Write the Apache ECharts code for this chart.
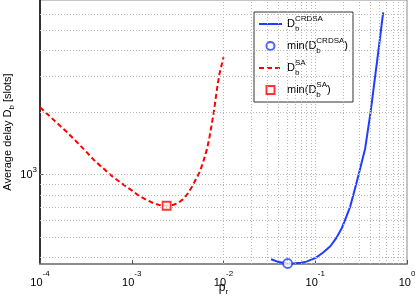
<!DOCTYPE html>
<html>
<head>
<meta charset="utf-8">
<script src="https://cdn.jsdelivr.net/npm/echarts@6/dist/echarts.min.js"></script>
<style>
html,body{margin:0;padding:0;background:#fff;}
#chart{width:415px;height:300px;}
</style>
</head>
<body>
<div id="chart"></div>
<script>
// ---- data ----
const crdsaX = [0.033, 0.04, 0.05, 0.06, 0.07, 0.08, 0.1, 0.12, 0.146, 0.17, 0.195, 0.22, 0.24, 0.27, 0.3, 0.35, 0.4, 0.45, 0.5, 0.55];
const crdsaY = [390, 378, 372, 373, 375, 380, 395, 418, 451, 495, 553, 632, 700, 851, 1020, 1340, 1990, 3000, 4330, 6100];
const saX = [1e-4, 1.5e-4, 2e-4, 3e-4, 4e-4, 5e-4, 6e-4, 7e-4, 8e-4, 1e-3, 1.2e-3, 1.5e-3, 1.8e-3, 2e-3, 2.4e-3, 2.8e-3, 3.2e-3, 3.6e-3, 4e-3, 4.5e-3, 5e-3, 5.5e-3, 6e-3, 6.6e-3, 7e-3, 7.8e-3, 8.5e-3, 9e-3, 1e-2];
const saY = [2120, 1795, 1596, 1330, 1160, 1065, 990, 940, 900, 840, 790, 750, 722, 714, 708, 714, 730, 760, 800, 870, 950, 1030, 1150, 1330, 1500, 1980, 2600, 3050, 3700];
const crdsaMin = [0.05, 372];
const saMin = [2.4e-3, 708];
const xRange = [1e-4, 1];
const yRange = [370, 7000];
const gridXValues = [2e-4,3e-4,4e-4,5e-4,6e-4,7e-4,8e-4,9e-4,1e-3,2e-3,3e-3,4e-3,5e-3,6e-3,7e-3,8e-3,9e-3,1e-2,2e-2,3e-2,4e-2,5e-2,6e-2,7e-2,8e-2,9e-2,1e-1,2e-1,3e-1,4e-1,5e-1,6e-1,7e-1,8e-1,9e-1];
const gridYValues = [400,500,600,700,800,900,1000,2000,3000,4000,5000,6000];
const seriesNames = ['crdsa', 'crdsaMin', 'sa', 'saMin'];

const FONT = '"Liberation Sans", Arial, sans-serif';
const BLUE = '#1f3dff';
const RED = '#ff0000';

function pairs(xs, ys){ return xs.map((x,i)=>[x, ys[i]]); }

const sup = {fontSize: 8, fontFamily: FONT, color:'#000', verticalAlign:'top', lineHeight: 20, padding:[1,0,0,0]};
const sub = {fontSize: 8, fontFamily: FONT, color:'#000', verticalAlign:'bottom', lineHeight: 20, width: 0, padding:[0,0,1,0]};
const base = {fontSize: 11, fontFamily: FONT, color:'#000', verticalAlign:'middle', lineHeight: 20};

const legendText = {
  crdsa: '{n|D}{s|b}{p|CRDSA}',
  crdsaMin: '{n|min(D}{s|b}{p|CRDSA}{n|)}',
  sa: '{n|D}{s|b}{p|SA}',
  saMin: '{n|min(D}{s|b}{p|SA}{n|)}'
};

function powLabel(v){
  const e = Math.round(Math.log10(v));
  if (Math.abs(Math.log10(v) - e) > 1e-6) return '';
  return '{b|10}{e|' + (e < 0 ? '-' + (-e) : e) + '}';
}
const xTickRich = {
  b: {fontSize: 11, fontFamily: FONT, color:'#000', verticalAlign:'bottom', lineHeight: 18},
  e: {fontSize: 8, fontFamily: FONT, color:'#000', verticalAlign:'top', lineHeight: 18}
};
const yTickRich = {
  b: {fontSize: 11, fontFamily: FONT, color:'#000', verticalAlign:'middle', lineHeight: 18},
  e: {fontSize: 8, fontFamily: FONT, color:'#000', verticalAlign:'top', lineHeight: 18}
};

const chart = echarts.init(document.getElementById('chart'), null, {renderer:'canvas'});
chart.setOption({
  animation: false,
  backgroundColor: '#fff',
  grid: {left: 40, right: 8, top: 0, bottom: 36, show: true, borderColor: '#8c8c8c', borderWidth: 1, backgroundColor: 'transparent', containLabel: false, outerBoundsMode: 'none'},
  xAxis: {
    type: 'log', logBase: 10, min: xRange[0], max: xRange[1],
    axisLine: {show: true, lineStyle: {color: '#8c8c8c', width: 2}},
    axisTick: {show: true, inside: true, length: 4, lineStyle: {color: '#555'}},
    splitLine: {show: false},
    axisLabel: {formatter: powLabel, rich: xTickRich, margin: 6, color:'#000'},
    name: '{p|p}{s|r}', nameLocation: 'middle', nameGap: 16, nameMoveOverlap: false,
    nameTextStyle: {rich: {p: {fontSize: 12, fontFamily: FONT, color:'#000', verticalAlign:'middle', lineHeight: 16}, s: {fontSize: 8, fontFamily: FONT, color:'#000', verticalAlign:'bottom', lineHeight: 16}}}
  },
  yAxis: {
    type: 'log', logBase: 10, min: yRange[0], max: yRange[1],
    axisLine: {show: true, lineStyle: {color: '#000', width: 1.5}},
    axisTick: {show: true, inside: true, length: 4, lineStyle: {color: '#555'}},
    splitLine: {show: false},
    axisLabel: {formatter: powLabel, rich: yTickRich, margin: 3, color:'#000', showMinLabel: false, showMaxLabel: false},
    name: 'Average delay D{s|b} [slots]', nameLocation: 'middle', nameGap: 24, nameRotate: 90, nameMoveOverlap: false,
    nameTextStyle: {fontSize: 11, fontFamily: FONT, color:'#000', rich: {s: {fontSize: 8, fontFamily: FONT, color:'#000', verticalAlign:'bottom', lineHeight: 16}}}
  },
  legend: {
    show: true, orient: 'vertical', left: 254, top: 12,
    padding: [2, 5, 2, 4], itemGap: 2, itemWidth: 23, itemHeight: 8,
    backgroundColor: '#fff', borderColor: '#333', borderWidth: 1,
    data: [
      {name: 'crdsa', itemStyle: {opacity: 0}},
      {name: 'crdsaMin'},
      {name: 'sa', itemStyle: {opacity: 0}},
      {name: 'saMin'}
    ],
    formatter: function(name){ return legendText[name]; },
    textStyle: {rich: {n: base, s: sub, p: sup}}
  },
  series: [
    {
      name: 'grid', type: 'line', data: [], silent: true, z: 1,
      markLine: {
        silent: true, symbol: 'none', animation: false, label: {show: false},
        lineStyle: {color: '#b8b8b8', type: [1, 2], width: 1},
        emphasis: {disabled: true},
        data: gridXValues.map(v => ({xAxis: v})).concat(gridYValues.map(v => ({yAxis: v})))
      }
    },
    {
      name: 'crdsa', type: 'line', data: pairs(crdsaX, crdsaY), symbol: 'none', z: 3,
      lineStyle: {color: BLUE, width: 2}, itemStyle: {color: BLUE}
    },
    {
      name: 'crdsaMin', type: 'scatter', data: [crdsaMin], symbol: 'circle', symbolSize: 9, z: 4, clip: false,
      itemStyle: {color: '#fff', borderColor: BLUE, borderWidth: 1.8}
    },
    {
      name: 'sa', type: 'line', data: pairs(saX, saY), symbol: 'none', z: 3,
      lineStyle: {color: RED, width: 2, type: [5, 3]}, itemStyle: {color: RED}
    },
    {
      name: 'saMin', type: 'scatter', data: [saMin], symbol: 'path://M0,0H10V10H0Z', symbolSize: 8, z: 4, clip: false,
      itemStyle: {color: '#fff', borderColor: RED, borderWidth: 1.8}
    }
  ]
});
</script>
</body>
</html>
